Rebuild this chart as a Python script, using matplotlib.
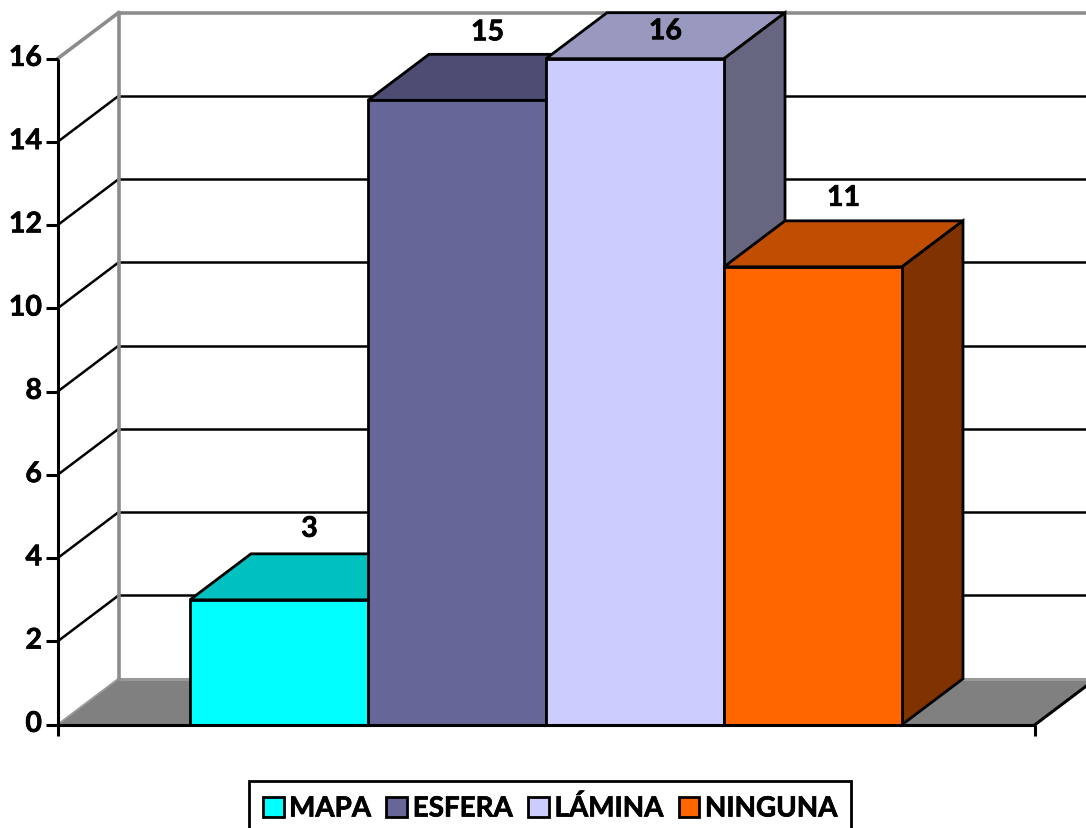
import matplotlib
matplotlib.use("Agg")
import matplotlib.pyplot as plt
import matplotlib.patheffects as pe
from matplotlib.patches import Polygon, Patch

categories = ["MAPA", "ESFERA", "LÁMINA", "NINGUNA"]
values = [3, 15, 16, 11]
y_ticks = [0, 2, 4, 6, 8, 10, 12, 14, 16]
front_colors = ["#00FFFF", "#666699", "#CCCCFF", "#FF6600"]
top_colors = ["#00C0C0", "#4D4D73", "#9999C0", "#C04D00"]
side_colors = ["#008080", "#333366", "#666680", "#803300"]
label_gaps_px = [25, 22, -18.5, 23]

W, H = 1086, 829
PX_X = 178.0      # pixels per bar
PX_Y = 41.625     # pixels per value unit
X0_PX, Y0_PX = 190.0, 725.7
DX = 61.0 / PX_X  # depth in x units
DY = 46.0 / PX_Y  # depth in value units
LEFT = (57.5 - X0_PX) / PX_X
RIGHT = (1035 - X0_PX) / PX_X
TOP_V = max(y_ticks)

plt.rcParams["font.family"] = ["Lato", "DejaVu Sans"]
plt.rcParams["font.weight"] = "bold"
THICK = [pe.withStroke(linewidth=0.5, foreground="black")]

fig = plt.figure(figsize=(W / 100, H / 100), dpi=100, facecolor="white")
ax = fig.add_axes([0, 0, 1, 1])
ax.set_xlim(-X0_PX / PX_X, (W - X0_PX) / PX_X)
ax.set_ylim(-(H - Y0_PX) / PX_Y, Y0_PX / PX_Y)
ax.axis("off")

BLACK = dict(color="black", lw=1.8, solid_capstyle="butt", zorder=2)
GRAY = dict(color="#8C8C8C", lw=2.6, solid_capstyle="projecting", zorder=2.2)

# floor
ax.add_patch(Polygon([(LEFT, 0), (LEFT + DX, DY), (RIGHT + DX, DY), (RIGHT, 0)],
                     closed=True, facecolor="#808080", edgecolor="none", zorder=1))
ax.plot([LEFT + DX, RIGHT + DX], [DY, DY], color="#999999", lw=2.2, zorder=1.5)
ax.plot([LEFT, LEFT + DX], [0, DY], color="#999999", lw=1.4, zorder=1.5)

# back and side wall gridlines
for t in y_ticks[1:-1]:
    ax.plot([LEFT + DX, RIGHT + DX], [t + DY, t + DY], **BLACK)
    ax.plot([LEFT, LEFT + DX], [t, t + DY], **BLACK)

# wall outlines
ax.plot([LEFT + DX, LEFT + DX], [DY, TOP_V + DY], **GRAY)
ax.plot([LEFT + DX, RIGHT + DX], [TOP_V + DY, TOP_V + DY], **GRAY)
ax.plot([LEFT, LEFT + DX], [TOP_V, TOP_V + DY], **GRAY)

# bars
edge = dict(edgecolor="black", linewidth=2.0, joinstyle="miter", zorder=3)
for i, v in enumerate(values):
    ax.add_patch(Polygon([(i, v), (i + DX, v + DY), (i + 1 + DX, v + DY), (i + 1, v)],
                         closed=True, facecolor=top_colors[i], **edge))
    ax.add_patch(Polygon([(i + 1, 0), (i + 1 + DX, DY), (i + 1 + DX, v + DY), (i + 1, v)],
                         closed=True, facecolor=side_colors[i], **edge))
    ax.add_patch(Polygon([(i, 0), (i + 1, 0), (i + 1, v), (i, v)],
                         closed=True, facecolor=front_colors[i], **edge))
    ax.text(i + 0.5 + DX / 2, v + DY + label_gaps_px[i] / PX_Y, str(v),
            ha="center", va="center", fontsize=20.5, fontweight="bold", color="black",
            zorder=5, path_effects=THICK)

# front axes
AX = dict(color="black", lw=2.2, solid_capstyle="butt", zorder=4)
ax.plot([LEFT, LEFT], [0, TOP_V], **AX)
ax.plot([LEFT, RIGHT], [0, 0], **AX)
ax.plot([RIGHT, RIGHT + DX], [0, DY], color="black", lw=2.2, zorder=4)
TICK_X = 12 / PX_X
TICK_Y = 11 / PX_Y
for t in y_ticks:
    ax.plot([LEFT - TICK_X, LEFT], [t, t], **AX)
    ax.text(LEFT - 15.5 / PX_X, t + 0.02, str(t), ha="right", va="center",
            fontsize=20.5, fontweight="bold", color="black", path_effects=THICK)
for xe in (LEFT, RIGHT):
    ax.plot([xe, xe], [0, -TICK_Y], **AX)

# legend
handles = [Patch(facecolor=c, edgecolor="black", linewidth=2.0) for c in front_colors]
leg = ax.legend(handles, categories, ncol=4, loc="center",
                bbox_to_anchor=(550 / W, 1 - 809 / H), bbox_transform=fig.transFigure,
                fontsize=20, frameon=True, fancybox=False, edgecolor="black", framealpha=1,
                handlelength=0.75, handleheight=0.75, handletextpad=0.2, columnspacing=0.55,
                borderpad=0.5, borderaxespad=0)
leg.get_frame().set_linewidth(2.0)
for txt in leg.get_texts():
    txt.set_path_effects(THICK)

fig.savefig("out.png", dpi=100, facecolor="white")
